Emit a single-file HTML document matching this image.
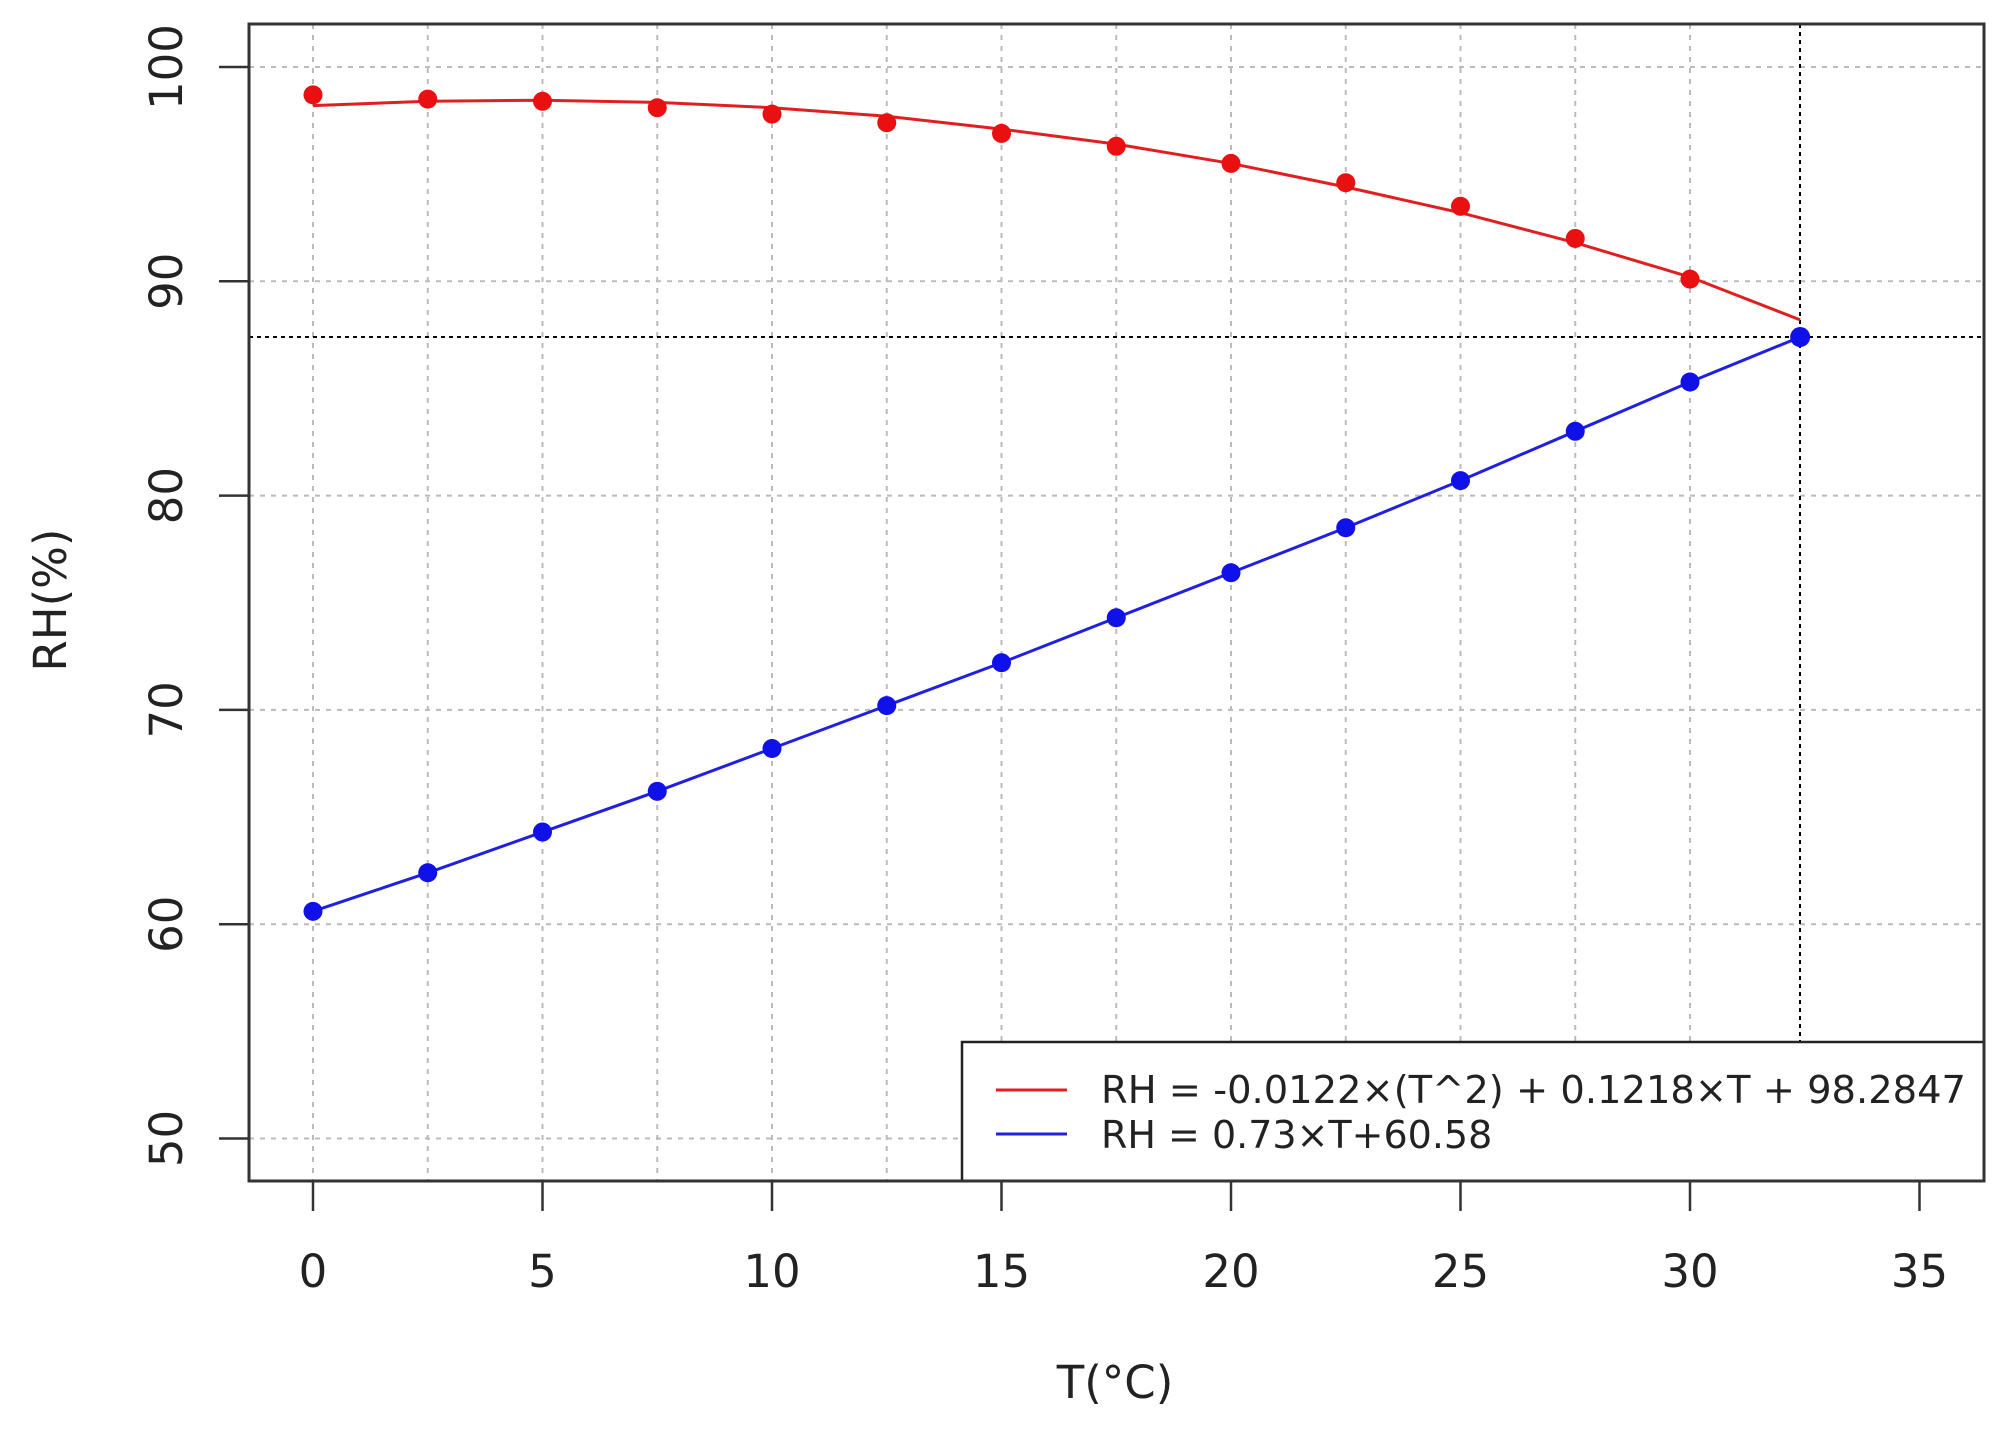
<!DOCTYPE html>
<html><head><meta charset="utf-8"><style>
html,body{margin:0;padding:0;background:#fff;}
svg text{font-family:"DejaVu Sans","Liberation Sans",sans-serif;fill:#222;}
</style></head><body>
<svg id="s" width="2003" height="1432" xmlns="http://www.w3.org/2000/svg">
<rect width="2003" height="1432" fill="#fff"/>
<g id="grid" stroke="#bbb" stroke-width="2" stroke-dasharray="5,6"></g>
<g id="ref" stroke="#000" stroke-width="2" stroke-dasharray="4,4">
<line x1="249" y1="337" x2="1984" y2="337"/>
<line x1="1800" y1="24" x2="1800" y2="1181"/>
</g>
<g id="series"></g>
<rect x="962" y="1042" width="1022" height="139" fill="#fff" stroke="#222" stroke-width="2.5"/>
<line x1="996" y1="1090" x2="1067" y2="1090" stroke="#e02020" stroke-width="3"/>
<line x1="996" y1="1134" x2="1067" y2="1134" stroke="#2020e0" stroke-width="3"/>
<text x="1101" y="1103" font-size="38" textLength="865" lengthAdjust="spacingAndGlyphs">RH = -0.0122×(T^2) + 0.1218×T + 98.2847</text>
<text x="1101" y="1148" font-size="38">RH = 0.73×T+60.58</text>
<rect x="249" y="24" width="1735" height="1157" fill="none" stroke="#333" stroke-width="3"/>
<g id="ticks" stroke="#333" stroke-width="2.5"></g>
<g id="labels" font-size="45"></g>
<text x="1115" y="1398" font-size="45" text-anchor="middle">T(°C)</text>
<text transform="translate(66,600) rotate(-90)" font-size="45" text-anchor="middle">RH(%)</text>
</svg>
<script>
const NS="http://www.w3.org/2000/svg";
const X=t=>313+t*45.9, Y=v=>67+(100-v)*21.43;
function el(p,n,a,txt){const e=document.createElementNS(NS,n);for(const k in a)e.setAttribute(k,a[k]);if(txt!==undefined)e.textContent=txt;document.getElementById(p).appendChild(e);return e;}
for(let t=0;t<=30;t+=2.5)el("grid","line",{x1:X(t),y1:24,x2:X(t),y2:1181});
for(let v=50;v<=100;v+=10)el("grid","line",{x1:249,y1:Y(v),x2:1984,y2:Y(v)});
for(let t=0;t<=35;t+=5){el("ticks","line",{x1:X(t),y1:1181,x2:X(t),y2:1211});el("labels","text",{x:X(t),y:1287,"text-anchor":"middle"},t);}
for(let v=50;v<=100;v+=10){el("ticks","line",{x1:219,y1:Y(v),x2:249,y2:Y(v)});el("labels","text",{transform:`translate(182,${Y(v)}) rotate(-90)`,"text-anchor":"middle"},v);}
const rc=[[0,98.2],[2.5,98.4],[5,98.45],[7.5,98.35],[10,98.1],[12.5,97.7],[15,97.1],[17.5,96.4],[20,95.5],[22.5,94.4],[25,93.2],[27.5,91.8],[30,90.2],[32.4,88.2]];
el("series","polyline",{points:rc.map(p=>X(p[0])+","+Y(p[1])).join(" "),fill:"none",stroke:"#e02020","stroke-width":3});
const rp=[98.7,98.5,98.4,98.1,97.8,97.4,96.9,96.3,95.5,94.6,93.5,92.0,90.1];
const bp=[60.6,62.4,64.3,66.2,68.2,70.2,72.2,74.3,76.4,78.5,80.7,83.0,85.3];
const bl=bp.map((v,i)=>[i*2.5,v]).concat([[32.4,87.4]]);
el("series","polyline",{points:bl.map(p=>X(p[0])+","+Y(p[1])).join(" "),fill:"none",stroke:"#2020e0","stroke-width":3});
rp.forEach((v,i)=>el("series","circle",{cx:X(i*2.5),cy:Y(v),r:9.5,fill:"#e81010"}));
bp.forEach((v,i)=>el("series","circle",{cx:X(i*2.5),cy:Y(v),r:9.5,fill:"#1010e8"}));
el("series","circle",{cx:X(32.4),cy:Y(87.4),r:10,fill:"#1010e8"});
</script>
</body></html>
